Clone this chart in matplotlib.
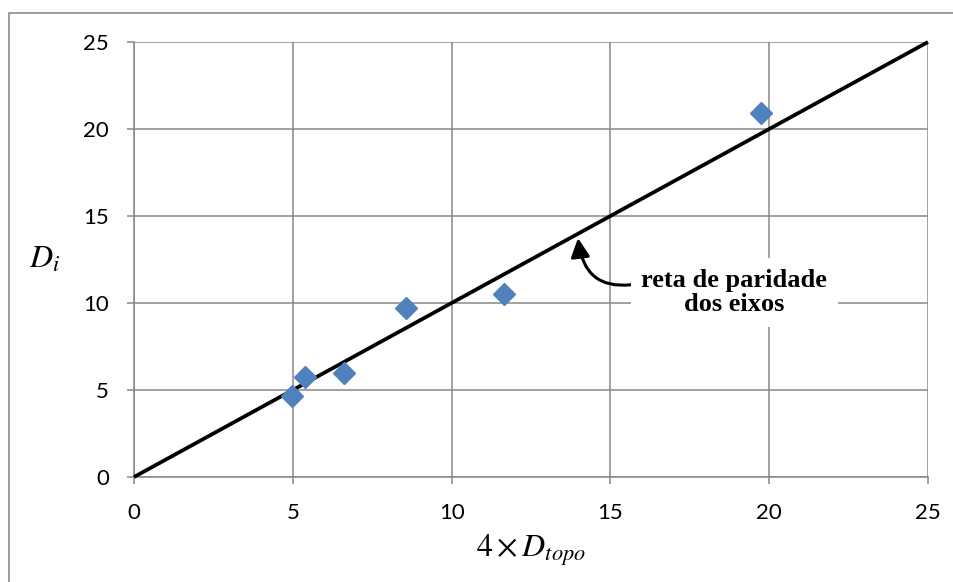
import matplotlib
matplotlib.use("Agg")
import matplotlib.pyplot as plt
from matplotlib.patches import Rectangle

# dados
x_vals = [4.99, 5.38, 6.61, 8.55, 11.66, 19.74]
y_vals = [4.64, 5.76, 5.96, 9.69, 10.50, 20.92]
paridade = [0, 25]
ticks = [0, 5, 10, 15, 20, 25]

plt.rcParams['mathtext.fontset'] = 'stix'
tick_font = ['Lato', 'DejaVu Sans']
grid_col = '#878787'

fig = plt.figure(figsize=(9.54, 5.82), dpi=100)
ax = fig.add_axes([134 / 954, 1 - 477 / 582, (928 - 134) / 954, (477 - 42) / 582])

# moldura externa (so esquerda e topo aparecem)
fig.patches.append(Rectangle((9 / 954, -0.1), 1.2, 1.1 - 12.5 / 582,
                             transform=fig.transFigure, fill=False,
                             edgecolor='#8c8c8c', linewidth=1.2, clip_on=False))

ax.plot(paridade, paridade, color='black', linewidth=2.7, zorder=3, clip_on=False,
        solid_capstyle='butt')
ax.plot(x_vals, y_vals, linestyle='none', marker='D', markersize=11.5,
        color='#4f81bd', markeredgecolor='#4f81bd', zorder=4)

ax.set_xlim(0, 25)
ax.set_ylim(0, 25)
ax.set_xticks(ticks)
ax.set_yticks(ticks)
ax.grid(True, color=grid_col, linewidth=1.1)
ax.set_axisbelow(True)
for s in ['top', 'right']:
    ax.spines[s].set_visible(False)
for s in ['left', 'bottom']:
    ax.spines[s].set_color(grid_col)
    ax.spines[s].set_linewidth(1.1)
ax.tick_params(direction='out', length=5, width=1.1, color=grid_col)
ax.tick_params(axis='y', pad=13)
ax.tick_params(axis='x', pad=14)
for lab in ax.get_xticklabels() + ax.get_yticklabels():
    lab.set_family(tick_font)
    lab.set_fontsize(16)

ax.set_xlabel(r'$4\times D_{topo}$', fontsize=23, labelpad=7)
ax.set_ylabel(r'$D_i$', fontsize=23, rotation=0, labelpad=28, va='center')

ax.annotate('reta de paridade\ndos eixos', xy=(13.98, 13.73), xytext=(18.9, 10.6),
            ha='center', va='center', fontsize=19, fontweight='bold',
            family=['Liberation Serif', 'DejaVu Serif'], linespacing=1.1,
            bbox=dict(boxstyle='square,pad=0.4', facecolor='white', edgecolor='none'),
            arrowprops=dict(arrowstyle='-|>,head_length=0.6,head_width=0.3', color='black',
                            linewidth=2.2, shrinkA=0, shrinkB=0,
                            connectionstyle='arc3,rad=-0.55',
                            relpos=(0.0, 0.7)),
            zorder=5)

fig.savefig('out.png', dpi=100)
